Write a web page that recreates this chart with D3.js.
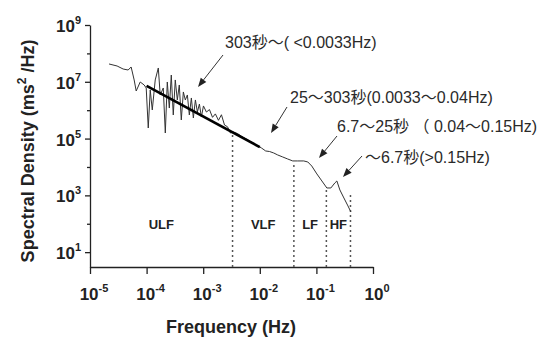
<!DOCTYPE html>
<html>
<head>
<meta charset="utf-8">
<script src="https://cdn.jsdelivr.net/npm/d3@7"></script>
<style>
  body { margin: 0; background: #fff; }
  svg { display: block; font-family: "Liberation Sans", Arial, "Noto Sans CJK JP", sans-serif; }
</style>
</head>
<body>
<div id="chart"></div>
<script>
// raw spectrum (Hz, ms^2/Hz)
var freq = [2.17e-5, 3.01e-5, 3.85e-5, 4.72e-5, 5.33e-5, 6.03e-5, 6.55e-5, 7.71e-5, 9.06e-5, 9.84e-5,
            1.07e-4, 1.16e-4, 1.26e-4, 1.42e-4, 1.61e-4, 1.74e-4, 1.97e-4, 2.14e-4, 2.32e-4, 2.52e-4,
            2.73e-4, 2.96e-4, 3.21e-4, 3.49e-4, 3.78e-4, 4.10e-4, 4.46e-4, 4.83e-4, 5.25e-4, 5.69e-4,
            6.18e-4, 6.70e-4, 7.28e-4, 7.89e-4, 8.57e-4, 9.29e-4, 1.01e-3, 1.14e-3, 1.29e-3, 1.46e-3,
            1.64e-3, 1.86e-3, 2.10e-3, 2.38e-3, 2.69e-3, 3.03e-3, 3.43e-3, 4.04e-3, 4.75e-3, 5.60e-3,
            6.59e-3, 7.76e-3, 9.14e-3, 1.08e-2, 1.27e-2, 1.49e-2, 1.76e-2, 2.07e-2, 2.54e-2, 3.11e-2,
            3.82e-2, 4.68e-2, 5.98e-2, 7.05e-2, 8.28e-2, 0.102, 0.125, 0.153, 0.180, 0.212,
            0.230, 0.260, 0.306, 0.361, 0.407];
var psd = [4.24e7, 3.60e7, 2.82e7, 2.60e7, 3.32e7, 1.16e7, 4.74e6, 9.84e6, 7.71e6, 6.05e6,
           2.36e5, 5.14e6, 1.02e6, 1.16e7, 3.06e7, 3.43e6, 6.05e6, 1.57e5, 9.84e6, 1.19e6,
           1.73e7, 6.78e5, 1.16e7, 2.29e6, 7.71e6, 4.52e5, 4.38e6, 2.29e6, 3.43e6, 6.78e5,
           2.69e6, 5.31e5, 2.29e6, 8.65e5, 1.65e6, 5.77e5, 1.41e6, 8.6e5, 1.05e6, 5.6e5,
           7.4e5, 4.4e5, 6.9e5, 3.0e5, 2.6e5, 1.57e5, 1.7e5, 1.5e5, 1.2e5, 1.0e5,
           8.2e4, 6.8e4, 5.6e4, 4.6e4, 3.66e4, 3.5e4, 3.11e4, 2.65e4, 2.25e4, 1.91e4,
           1.63e4, 1.63e4, 1.63e4, 1.50e4, 1.08e4, 5.68e3, 3.21e3, 1.82e3, 1.82e3, 2.74e3,
           3.21e3, 1.55e3, 809, 424, 260];

// 1/f fit line
var fitFreq = [1e-4, 1e-2];
var fitPsd = [7.2e6, 5.0e4];

// band edges (Hz) and where the dotted separators stop
var bandEdges = [1e-5, 0.0033, 0.04, 0.15, 0.4];
var edgeTops = [1.6e5, 1.5e4, 1.6e3, 1.2e3];
var bandNames = ["ULF", "VLF", "LF", "HF"];

var xTicks = [1e-5, 1e-4, 1e-3, 1e-2, 1e-1, 1];
var yTicks = [1e1, 1e2, 1e3, 1e4, 1e5, 1e6, 1e7, 1e8, 1e9];

var notes = [
    "303秒～( <0.0033Hz)",
    "25～303秒(0.0033～0.04Hz)",
    "6.7～25秒 （ 0.04～0.15Hz)",
    "～6.7秒(>0.15Hz)"
];

var width = 553, height = 338;

var svg = d3.select("#chart").append("svg")
    .attr("width", width)
    .attr("height", height);

var x = d3.scaleLog().domain([1e-5, 1]).range([90, 373]);
var y = d3.scaleLog().domain([3, 1e9]).range([267, 25]);

var ink = "#222";

// x axis
var xAxis = svg.append("g")
    .attr("transform", "translate(0," + y(3) + ")")
    .call(d3.axisBottom(x).tickValues(xTicks).tickSize(7).tickSizeOuter(0).tickFormat(""));
xAxis.select(".domain").attr("stroke", ink).attr("stroke-width", 1.3);
xAxis.selectAll(".tick line").attr("stroke", ink).attr("stroke-width", 1.3);

xTicks.forEach(function (t) {
    var e = Math.round(Math.log10(t));
    var txt = svg.append("text")
        .attr("x", x(t) + 4)
        .attr("y", 300)
        .attr("text-anchor", "middle")
        .attr("font-size", 17)
        .attr("font-weight", "bold")
        .attr("fill", ink)
        .text("10");
    txt.append("tspan")
        .attr("dy", -8)
        .attr("font-size", 11)
        .text(e);
});

// y axis
var yAxis = svg.append("g")
    .attr("transform", "translate(" + x(1e-5) + ",0)")
    .call(d3.axisLeft(y).tickValues(yTicks).tickSize(5).tickSizeOuter(0).tickFormat(""));
yAxis.select(".domain").attr("stroke", ink).attr("stroke-width", 1.3);
yAxis.selectAll(".tick line")
    .attr("stroke", ink).attr("stroke-width", 1.3)
    .attr("x2", function (d) { return Math.round(Math.log10(d)) % 2 ? -5 : -3; });

yTicks.filter(function (t) { return Math.round(Math.log10(t)) % 2; }).forEach(function (t) {
    var e = Math.round(Math.log10(t));
    var txt = svg.append("text")
        .attr("x", 81)
        .attr("y", y(t) + 7)
        .attr("text-anchor", "end")
        .attr("font-size", 17)
        .attr("font-weight", "bold")
        .attr("fill", ink)
        .text("10");
    txt.append("tspan")
        .attr("dy", -8)
        .attr("font-size", 11)
        .text(e);
});

// axis titles
svg.append("text")
    .attr("x", 231)
    .attr("y", 333)
    .attr("text-anchor", "middle")
    .attr("font-size", 18)
    .attr("font-weight", "bold")
    .attr("fill", ink)
    .text("Frequency (Hz)");

var yTitle = svg.append("text")
    .attr("transform", "translate(34,151) rotate(-90)")
    .attr("text-anchor", "middle")
    .attr("font-size", 18)
    .attr("font-weight", "bold")
    .attr("fill", ink)
    .text("Spectral Density (ms");
yTitle.append("tspan").attr("dy", -8).attr("font-size", 12).text("2");
yTitle.append("tspan").attr("dy", 8).text(" /Hz)");

// dotted band separators
svg.selectAll(".edge")
    .data(bandEdges.slice(1))
    .enter().append("line")
    .attr("class", "edge")
    .attr("x1", function (d) { return x(d); })
    .attr("x2", function (d) { return x(d); })
    .attr("y1", y(3))
    .attr("y2", function (d, i) { return y(edgeTops[i]); })
    .attr("stroke", "#555")
    .attr("stroke-width", 1.5)
    .attr("stroke-dasharray", "2,3");

// band names at geometric centre of each band
svg.selectAll(".band")
    .data(bandNames)
    .enter().append("text")
    .attr("class", "band")
    .attr("x", function (d, i) { return x(Math.sqrt(bandEdges[i] * bandEdges[i + 1])); })
    .attr("y", 229)
    .attr("text-anchor", "middle")
    .attr("font-size", 13)
    .attr("font-weight", "bold")
    .attr("fill", ink)
    .text(function (d) { return d; });

// raw spectrum
var line = d3.line()
    .x(function (d) { return x(d[0]); })
    .y(function (d) { return y(d[1]); });

svg.append("path")
    .datum(d3.zip(freq, psd))
    .attr("d", line)
    .attr("fill", "none")
    .attr("stroke", "#333")
    .attr("stroke-width", 1);

// fit line
svg.append("path")
    .datum(d3.zip(fitFreq, fitPsd))
    .attr("d", line)
    .attr("fill", "none")
    .attr("stroke", "#000")
    .attr("stroke-width", 2.6);

// annotations: text start, arrow from -> arrow tip
var noteLayout = [
    { tx: 225, ty: 48, from: [223, 55], to: [198, 87] },
    { tx: 290, ty: 103, from: [287, 107], to: [271, 133] },
    { tx: 337, ty: 132, from: [337, 136], to: [319, 158] },
    { tx: 365, ty: 163, from: [362, 156], to: [343, 177] }
];

notes.forEach(function (n, i) {
    var L = noteLayout[i];
    svg.append("text")
        .attr("x", L.tx)
        .attr("y", L.ty)
        .attr("font-size", 16)
        .attr("fill", "#2a2a2a")
        .text(n);

    var dx = L.to[0] - L.from[0], dy = L.to[1] - L.from[1];
    var len = Math.sqrt(dx * dx + dy * dy);
    var ux = dx / len, uy = dy / len;
    var hl = 9, hw = 3.5;
    var bx = L.to[0] - ux * hl, by = L.to[1] - uy * hl;
    svg.append("line")
        .attr("x1", L.from[0]).attr("y1", L.from[1])
        .attr("x2", bx).attr("y2", by)
        .attr("stroke", "#333")
        .attr("stroke-width", 1);
    svg.append("path")
        .attr("d", "M" + L.to[0] + "," + L.to[1] +
            "L" + (bx - uy * hw) + "," + (by + ux * hw) +
            "L" + (bx + uy * hw) + "," + (by - ux * hw) + "Z")
        .attr("fill", "#222");
});
</script>
</body>
</html>
